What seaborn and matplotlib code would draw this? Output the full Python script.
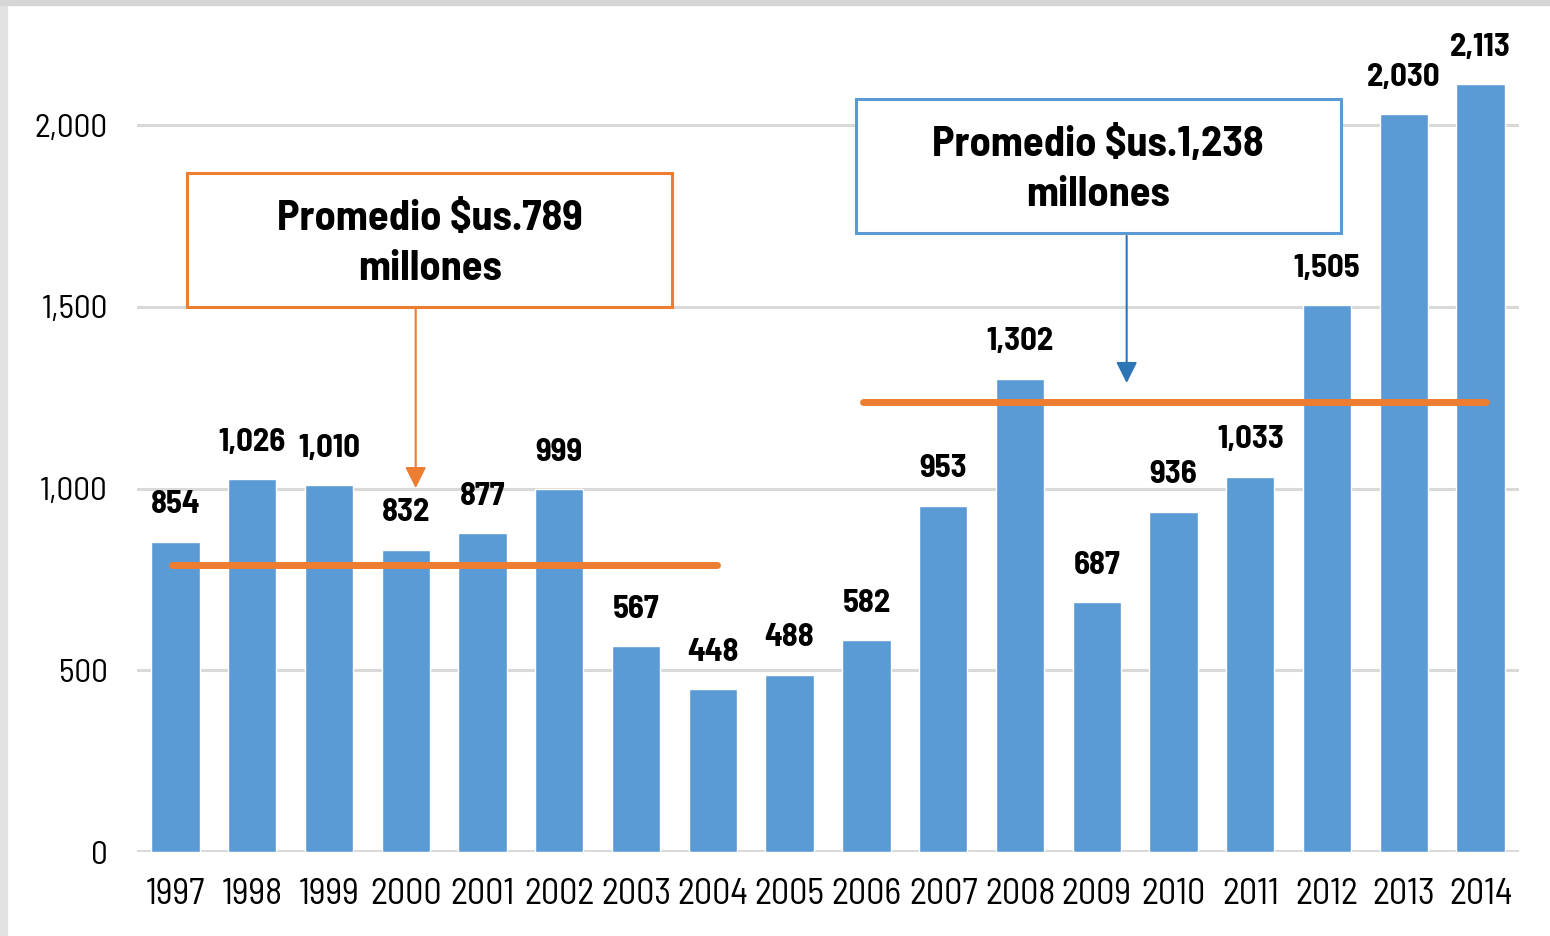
import matplotlib
matplotlib.use("Agg")
import matplotlib.pyplot as plt
import seaborn as sns
import pandas as pd
from matplotlib.patches import Rectangle

years = ["1997", "1998", "1999", "2000", "2001", "2002", "2003", "2004", "2005",
         "2006", "2007", "2008", "2009", "2010", "2011", "2012", "2013", "2014"]
values = [854, 1026, 1010, 832, 877, 999, 567, 448, 488,
          582, 953, 1302, 687, 936, 1033, 1505, 2030, 2113]
avg_early = 789
avg_late = 1238
box_early = "Promedio \\$us.789\nmillones"
box_late = "Promedio \\$us.1,238\nmillones"

BLUE = "#5B9BD5"
ORANGE = "#ED7D31"
DARK_BLUE = "#2E75B6"

df = pd.DataFrame({"year": years, "value": values})

sns.set_theme(style="white")
plt.rcParams["font.family"] = ["Barlow Semi Condensed", "DejaVu Sans"]
plt.rcParams["text.color"] = "black"

fig, ax = plt.subplots(figsize=(15.5, 9.36), dpi=100)
ymax = 2250
px_per_unit = 727 / 2000
top_px = 852 - ymax * px_per_unit
fig.subplots_adjust(left=137 / 1550, right=1519 / 1550,
                    bottom=1 - 852 / 936, top=1 - top_px / 936)

sns.barplot(data=df, x="year", y="value", color=BLUE, saturation=1,
            width=0.63, ax=ax, zorder=2)
ax.set_xlim(-0.5, 17.5)
ax.set_ylim(0, ymax)
ax.set_yticks([0, 500, 1000, 1500, 2000])
ax.set_yticklabels(["0", "500", "1,000", "1,500", "2,000"])
ax.yaxis.grid(True, color="#d9d9d9", lw=2.2)
ax.axhline(0, color="#d9d9d9", lw=3, zorder=1)
ax.set_axisbelow(True)
ax.set_xlabel("")
ax.set_ylabel("")
for s in ax.spines.values():
    s.set_visible(False)
ax.tick_params(axis="y", length=0, pad=21, labelsize=24, labelcolor="black")
ax.tick_params(axis="x", length=0, pad=19, labelsize=26, labelcolor="black")

# etiquetas de valor
for i, v in enumerate(values):
    ax.annotate(f"{v:,}", (i, v), xytext=(0, 26.5), textcoords="offset points",
                ha="center", va="center", fontsize=23.5, fontweight="bold",
                color="black")

# lineas de promedio
ax.plot([-0.04, 7.06], [avg_early, avg_early], color=ORANGE, lw=5,
        solid_capstyle="round", zorder=3)
ax.plot([8.96, 17.07], [avg_late, avg_late], color=ORANGE, lw=5,
        solid_capstyle="round", zorder=3)

# cuadros de texto
ax.add_patch(Rectangle((0.156, 1499), 6.31, 369, facecolor="white",
                       edgecolor=ORANGE, lw=2.2, zorder=4))
ax.text(0.156 + 6.31 / 2, 1499 + 369 / 2 - 10, box_early, ha="center", va="center",
        fontsize=30.5, fontweight="bold", linespacing=1.4, color="black", zorder=5)
ax.add_patch(Rectangle((8.86, 1703), 6.32, 368, facecolor="white",
                       edgecolor=BLUE, lw=2.2, zorder=4))
ax.text(8.86 + 6.32 / 2, 1703 + 368 / 2 - 10, box_late, ha="center", va="center",
        fontsize=30.5, fontweight="bold", linespacing=1.4, color="black", zorder=5)

# flechas
ax.annotate("", xy=(3.13, 1001), xytext=(3.13, 1499),
            arrowprops=dict(arrowstyle="-|>", color=ORANGE, lw=1.5,
                            mutation_scale=32, shrinkA=0, shrinkB=0), zorder=5)
ax.annotate("", xy=(12.39, 1290), xytext=(12.39, 1695),
            arrowprops=dict(arrowstyle="-|>", color=DARK_BLUE, lw=1.5,
                            mutation_scale=32, shrinkA=0, shrinkB=0), zorder=5)

# marco gris
fig.patches.append(Rectangle((0, 0), 7 / 1550, 1, transform=fig.transFigure,
                             color="#e2e2e2", zorder=0))
fig.patches.append(Rectangle((0, 1 - 5 / 936), 1, 5 / 936,
                             transform=fig.transFigure, color="#d6d6d6", zorder=0))

fig.savefig("out.png", dpi=100)
